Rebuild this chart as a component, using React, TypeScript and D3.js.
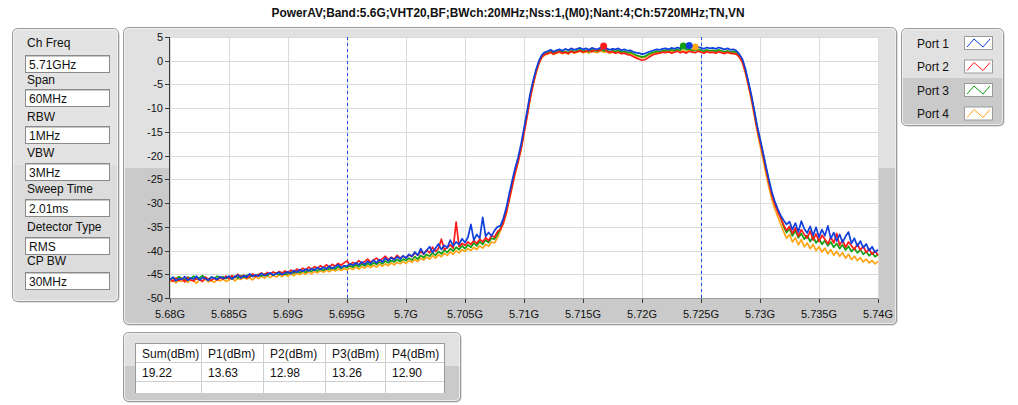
import React from "react";
import * as d3 from "d3";

// ---------- data ----------
const title = "PowerAV;Band:5.6G;VHT20,BF;BWch:20MHz;Nss:1,(M0);Nant:4;Ch:5720MHz;TN,VN";
const settingLabels = ["Ch Freq", "Span", "RBW", "VBW", "Sweep Time", "Detector Type", "CP BW"];
const settingValues = ["5.71GHz", "60MHz", "1MHz", "3MHz", "2.01ms", "RMS", "30MHz"];
const tableHeaders = ["Sum(dBm)", "P1(dBm)", "P2(dBm)", "P3(dBm)", "P4(dBm)"];
const tableValues = ["19.22", "13.63", "12.98", "13.26", "12.90"];
const portNames = ["Port 1", "Port 2", "Port 3", "Port 4"];
const portColors = ["#1040dc", "#ff1a1a", "#12a012", "#ffa514"];
const xTicks = [5.68, 5.685, 5.69, 5.695, 5.7, 5.705, 5.71, 5.715, 5.72, 5.725, 5.73, 5.735, 5.74];
const xTickLabels = ["5.68G", "5.685G", "5.69G", "5.695G", "5.7G", "5.705G", "5.71G", "5.715G", "5.72G", "5.725G", "5.73G", "5.735G", "5.74G"];
const yTicks = [5, 0, -5, -10, -15, -20, -25, -30, -35, -40, -45, -50];
const cursorFreqs = [5.695, 5.725];
const freqStartGHz = 5.68;
const freqStepGHz = 0.00025;

const port1 = [
  -46.2, -45.6, -46.4, -45.9, -46.1, -45.5, -46.3, -45.8, -46.0, -45.4, -46.2, -45.7, -45.9, -46.3, -45.6, -45.8, -46.1, -45.5, -45.9, -45.7,
  -45.4, -46.0, -45.5, -45.2, -45.8, -45.3, -45.6, -44.9, -45.5, -45.1, -45.4, -44.8, -45.3, -45.0, -44.7, -45.2, -44.9, -44.6, -45.1, -44.7,
  -44.5, -44.9, -44.2, -44.6, -44.0, -44.4, -43.9, -44.3, -43.8, -44.2, -43.6, -44.0, -43.5, -43.9, -43.3, -43.8, -43.4, -43.0, -43.6, -43.2,
  -43.3, -42.8, -43.1, -42.6, -43.0, -42.4, -42.9, -42.3, -42.7, -42.0, -42.6, -41.9, -42.4, -41.6, -42.2, -41.5, -42.0, -41.3, -41.8, -41.1,
  -41.6, -40.8, -41.2, -40.3, -41.0, -39.6, -40.7, -40.0, -39.2, -40.4, -39.5, -38.6, -39.8, -38.9, -39.4, -37.8, -39.0, -38.2, -38.7, -37.5,
  -38.3, -37.2, -34.5, -37.8, -36.6, -37.4, -33.0, -37.0, -36.2, -36.9, -35.8, -35.0,
  -34.8, -33.2, -31.0, -28.0, -25.2, -22.6, -20.4, -17.6, -14.2, -10.8, -7.2, -4.4, -2.0, -0.1, 1.2, 1.8,
  2.0, 2.3, 1.9, 2.2, 2.4, 2.1, 2.5, 2.2, 2.6, 2.3, 2.5, 2.7, 2.4, 2.6, 2.3, 2.7, 2.5, 2.4, 2.8, 2.5, 2.6, 2.3, 2.5, 2.4, 2.6, 2.2, 2.4, 2.1,
  2.2, 1.9, 1.7, 1.6, 1.4, 1.5, 1.8, 2.0, 2.2, 2.4, 2.3, 2.5,
  2.6, 2.4, 2.7, 2.5, 2.8, 2.6, 2.9, 2.7, 3.2, 2.8, 2.6, 2.9, 2.7, 2.5, 2.8, 2.6, 2.7, 2.5, 2.8, 2.6, 2.4, 2.6, 2.3, 2.4,
  2.1, 1.4, 0.4, -1.6, -4.2, -7.0, -10.2, -13.6, -16.4, -19.2, -22.2, -25.0, -27.6, -29.6, -31.2, -32.6,
  -33.6, -34.5, -33.9, -35.6, -34.2, -36.1, -33.8, -35.4, -36.3, -34.9, -36.8, -35.1, -37.2, -35.6, -36.9, -34.8, -37.5, -36.2, -38.0, -36.6,
  -38.3, -37.0, -36.1, -38.5, -37.4, -39.1, -38.0, -39.4, -38.6, -40.0, -39.2, -40.4, -39.8,
];

const port2 = [
  -46.0, -46.5, -45.8, -46.3, -45.9, -46.6, -45.7, -46.2, -46.4, -45.9, -46.1, -46.5, -45.6, -46.0, -46.3, -45.8, -46.2, -45.7, -46.0, -45.4,
  -45.9, -45.3, -45.7, -45.0, -45.6, -45.2, -45.8, -45.4, -44.9, -45.5, -45.1, -44.7, -45.2, -44.6, -45.0, -44.5, -44.9, -44.4, -44.8, -44.3,
  -44.7, -44.1, -44.5, -43.9, -44.3, -43.7, -44.1, -43.5, -43.9, -43.4, -43.7, -43.2, -43.6, -43.0, -43.5, -42.9, -43.3, -42.7, -43.1, -42.6,
  -42.2, -43.0, -42.5, -42.8, -42.1, -42.7, -42.3, -41.8, -42.5, -42.0, -41.6, -42.2, -41.7, -41.2, -41.9, -41.4, -41.8, -41.0, -41.6, -41.2,
  -41.5, -40.9, -41.3, -40.5, -41.0, -40.2, -40.8, -39.9, -40.5, -39.3, -40.2, -39.6, -37.6, -39.8, -39.4, -38.8, -39.5, -34.0, -39.2, -38.5,
  -38.9, -38.2, -38.7, -37.9, -38.5, -37.6, -38.2, -37.3, -37.9, -36.8, -37.2, -36.0,
  -35.6, -34.2, -32.0, -29.2, -26.4, -23.6, -21.2, -18.6, -15.2, -11.8, -8.2, -5.2, -2.6, -0.6, 0.8, 1.3,
  1.5, 1.8, 1.4, 1.7, 1.9, 1.6, 1.8, 1.5, 2.0, 1.7, 1.9, 2.1, 1.8, 2.0, 2.2, 1.9, 2.3, 2.1, 2.2, 3.1, 2.0, 1.8, 1.9, 1.6, 1.8, 1.5, 1.6, 1.3,
  1.2, 0.9, 0.6, 0.3, 0.1, 0.2, 0.6, 1.0, 1.3, 1.5, 1.6, 1.8,
  1.7, 1.9, 1.6, 1.8, 2.0, 1.7, 1.9, 1.6, 2.0, 1.8, 1.7, 2.0, 1.8, 1.6, 1.9, 1.7, 1.8, 1.6, 1.9, 1.7, 1.5, 1.8, 1.6, 1.5,
  1.4, 0.8, -0.2, -2.2, -4.8, -7.6, -10.8, -14.2, -17.0, -19.8, -22.8, -25.6, -28.2, -30.2, -31.8, -33.2,
  -34.6, -35.8, -34.9, -36.4, -35.2, -37.0, -35.6, -36.6, -37.4, -35.9, -37.8, -36.5, -38.1, -36.8, -37.6, -38.6, -37.2, -38.4, -36.4, -38.9,
  -37.8, -39.3, -38.2, -39.0, -39.8, -38.6, -39.9, -39.1, -40.4, -39.6, -40.8, -40.1, -41.0,
];

const port3 = [
  -46.1, -45.7, -46.0, -45.5, -45.9, -46.2, -45.6, -45.9, -45.4, -46.0, -45.7, -45.3, -45.8, -46.1, -45.6, -45.9, -45.4, -45.8, -45.5, -45.9,
  -45.6, -45.9, -45.4, -45.8, -45.3, -45.7, -45.2, -45.6, -45.1, -45.5, -45.0, -45.4, -44.9, -45.3, -44.8, -45.2, -44.7, -45.1, -44.6, -45.0,
  -44.9, -44.5, -44.8, -44.3, -44.7, -44.2, -44.6, -44.1, -44.4, -43.9, -44.3, -43.8, -44.2, -43.7, -44.0, -43.6, -43.9, -43.4, -43.8, -43.3,
  -43.6, -43.2, -43.5, -43.0, -43.4, -42.9, -43.2, -42.7, -43.1, -42.6, -42.9, -42.4, -42.8, -42.2, -42.6, -42.1, -42.4, -41.9, -42.3, -41.8,
  -42.1, -41.6, -42.0, -41.3, -41.8, -41.0, -41.5, -40.8, -41.2, -40.5, -41.0, -40.2, -40.7, -39.9, -40.4, -39.6, -40.1, -39.3, -39.8, -39.0,
  -39.6, -38.8, -39.3, -38.4, -39.0, -38.1, -38.7, -37.8, -38.3, -37.4, -37.6, -36.6,
  -35.4, -33.8, -31.6, -28.7, -25.9, -23.2, -20.9, -18.2, -14.8, -11.4, -7.8, -4.9, -2.4, -0.4, 0.9, 1.5,
  1.7, 2.0, 1.6, 1.9, 2.1, 1.8, 2.0, 1.7, 2.2, 1.9, 2.1, 2.3, 2.0, 2.2, 1.9, 2.3, 2.1, 2.0, 2.4, 2.1, 2.2, 1.9, 2.1, 2.0, 2.2, 1.8, 2.0, 1.7,
  1.8, 1.5, 1.2, 1.0, 0.8, 0.9, 1.3, 1.6, 1.8, 2.0, 1.9, 2.1,
  2.2, 2.0, 2.3, 2.1, 2.4, 2.2, 3.1, 2.3, 2.5, 2.2, 2.1, 2.4, 2.2, 2.0, 2.3, 2.1, 2.2, 2.0, 2.3, 2.1, 1.9, 2.1, 1.8, 1.9,
  1.8, 1.1, 0.1, -1.9, -4.5, -7.3, -10.5, -13.9, -16.7, -19.5, -22.5, -25.3, -27.9, -29.9, -31.5, -32.9,
  -34.9, -36.2, -35.4, -36.9, -35.8, -37.3, -36.4, -37.6, -36.8, -38.1, -37.0, -38.4, -37.5, -38.7, -37.9, -39.0, -38.2, -39.3, -38.5, -39.6,
  -38.8, -39.9, -39.1, -40.2, -39.5, -40.5, -39.8, -40.8, -40.2, -41.1, -40.5, -41.3, -40.9,
];

const port4 = [
  -46.6, -46.2, -46.8, -46.3, -46.5, -46.0, -46.7, -46.2, -46.4, -46.9, -46.1, -46.5, -46.0, -46.6, -46.3, -46.7, -46.1, -46.4, -46.0, -46.5,
  -46.2, -45.8, -46.4, -45.9, -46.1, -45.6, -46.0, -45.7, -46.2, -45.5, -45.9, -45.4, -45.8, -45.3, -45.7, -45.2, -45.6, -45.1, -45.5, -45.0,
  -45.4, -44.9, -45.3, -44.8, -45.1, -44.6, -45.0, -44.5, -44.9, -44.4, -44.7, -44.2, -44.6, -44.1, -44.5, -44.0, -44.3, -43.9, -44.2, -43.8,
  -44.1, -43.7, -44.0, -43.5, -43.9, -43.4, -43.7, -43.2, -43.6, -43.1, -43.5, -42.9, -43.3, -42.8, -43.2, -42.6, -43.0, -42.5, -42.8, -42.3,
  -42.7, -42.1, -42.5, -41.9, -42.3, -41.6, -42.0, -41.4, -41.8, -41.1, -41.6, -40.9, -41.3, -40.6, -41.0, -40.3, -40.8, -40.0, -40.5, -39.8,
  -40.2, -39.6, -40.0, -39.3, -39.8, -39.0, -39.5, -38.7, -39.1, -38.2, -38.4, -37.3,
  -35.8, -34.3, -32.2, -29.4, -26.6, -23.8, -21.4, -18.8, -15.4, -12.0, -8.4, -5.4, -2.8, -0.8, 0.6, 1.2,
  1.4, 1.7, 1.3, 1.6, 1.8, 1.5, 1.7, 1.4, 1.9, 1.6, 1.8, 2.0, 1.7, 1.9, 1.6, 2.0, 1.8, 1.7, 2.1, 1.8, 1.9, 1.6, 1.8, 1.7, 1.9, 1.5, 1.7, 1.4,
  1.5, 1.2, 1.0, 0.8, 0.6, 0.7, 1.1, 1.4, 1.6, 1.8, 1.7, 1.9,
  2.0, 1.8, 2.1, 1.9, 2.2, 2.0, 2.1, 1.9, 2.2, 2.0, 2.9, 2.1, 1.9, 1.8, 2.0, 1.8, 1.9, 1.7, 2.0, 1.8, 1.6, 1.8, 1.5, 1.6,
  1.5, 0.7, -0.4, -2.5, -5.2, -8.1, -11.4, -14.8, -17.8, -20.8, -23.8, -26.6, -29.2, -31.2, -32.8, -34.4,
  -36.0, -37.4, -36.6, -38.2, -37.3, -38.8, -37.7, -39.2, -38.4, -39.6, -38.7, -40.0, -39.2, -40.3, -39.5, -40.7, -39.8, -41.0, -40.2, -41.2,
  -40.5, -41.6, -40.8, -41.9, -41.2, -42.1, -41.5, -42.4, -41.8, -42.6, -42.1, -42.8, -42.3,
];

const portSeries = [port1, port2, port3, port4];

// ---------- layout ----------
const W = 1018;
const H = 405;
const plot = { left: 170, right: 878, top: 37, bottom: 298 };
const FONT = "'Liberation Sans', Arial, sans-serif";

function Panel({ x, y, w, h, split, light = "#e1e1e1", dark = "#cacaca", id }: any) {
  const s = split === undefined ? 1 : (split - y) / h;
  return (
    <g>
      <defs>
        <linearGradient id={id} x1="0" y1="0" x2="0" y2="1">
          <stop offset="0" stopColor={light} />
          <stop offset={s} stopColor={light} />
          <stop offset={s} stopColor={dark} />
          <stop offset="1" stopColor={dark} />
        </linearGradient>
      </defs>
      <rect x={x + 1.5} y={y + 1.5} width={w} height={h} rx={5} fill="#c4c4c4" />
      <rect x={x + 0.5} y={y + 0.5} width={w} height={h} rx={5} fill={`url(#${id})`} stroke="#9a9a9a" />
      <rect x={x + 1.5} y={y + 1.5} width={w - 2} height={h - 2} rx={4} fill="none" stroke="#f4f4f4" strokeOpacity={0.8} />
    </g>
  );
}

export default function App() {
  const x = d3.scaleLinear().domain([5.68, 5.74]).range([plot.left, plot.right]);
  const y = d3.scaleLinear().domain([-50, 5]).range([plot.bottom, plot.top]);
  const line = d3
    .line<number>()
    .x((_, i) => x(freqStartGHz + i * freqStepGHz))
    .y((d) => y(d));

  const boxTops = [55, 89, 126, 163, 199, 237, 272];
  const labelBase = [47, 84, 121, 157, 193, 231, 265];
  const colX = [135, 201, 263, 325, 385, 445];
  const drawOrder = [3, 2, 1, 0];

  return (
    <svg width={W} height={H} style={{ position: "absolute", left: 0, top: 0, background: "#fff" }} fontFamily={FONT}>
      <defs>
        <clipPath id="plotClip">
          <rect x={plot.left} y={plot.top - 4} width={plot.right - plot.left + 1} height={plot.bottom - plot.top + 4} />
        </clipPath>
      </defs>
      <rect x={0} y={0} width={W} height={H} fill="#fff" />

      {/* title */}
      <text x={508} y={17} textAnchor="middle" fontSize={12} fontWeight="bold" fill="#111" textLength={473} lengthAdjust="spacingAndGlyphs">
        {title}
      </text>

      {/* left settings panel */}
      <Panel id="gLeft" x={12} y={28} w={106} h={273} light="#e3e3e3" dark="#dcdcdc" split={165} />
      {settingLabels.map((lab, k) => (
        <g key={lab}>
          <text x={27} y={labelBase[k]} fontSize={12} fill="#111">{lab}</text>
          <rect x={25.5} y={boxTops[k] + 0.5} width={84} height={17} fill="#fff" stroke="#8a8a8a" />
          <line x1={26} y1={boxTops[k] + 1.5} x2={109} y2={boxTops[k] + 1.5} stroke="#c8c8c8" />
          <text x={29} y={boxTops[k] + 13.5} fontSize={12} fill="#111">{settingValues[k]}</text>
        </g>
      ))}

      {/* plot panel */}
      <Panel id="gPlot" x={123} y={27} w={773} h={297} split={168} />
      <rect x={plot.left} y={plot.top} width={plot.right - plot.left} height={plot.bottom - plot.top} fill="#fff" />

      {/* grid */}
      {xTicks.map((t) => (
        <line key={"gx" + t} x1={Math.round(x(t)) + 0.5} x2={Math.round(x(t)) + 0.5} y1={plot.top} y2={plot.bottom} stroke="#dadada" />
      ))}
      {yTicks.map((t) => (
        <line key={"gy" + t} x1={plot.left} x2={plot.right} y1={Math.round(y(t)) + 0.5} y2={Math.round(y(t)) + 0.5} stroke="#dadada" />
      ))}
      {cursorFreqs.map((c) => (
        <line key={"c" + c} x1={Math.round(x(c)) + 0.5} x2={Math.round(x(c)) + 0.5} y1={plot.top} y2={plot.bottom} stroke="#1e50e6" strokeDasharray="3,3" />
      ))}

      {/* traces */}
      <g clipPath="url(#plotClip)">
        {drawOrder.map((k) => (
          <path key={"p" + k} d={line(portSeries[k]) || ""} fill="none" stroke={portColors[k]} strokeWidth={1.7} strokeLinejoin="round" />
        ))}
        {drawOrder.map((k) => {
          const mi = d3.maxIndex(portSeries[k]);
          return (
            <circle key={"m" + k} cx={x(freqStartGHz + mi * freqStepGHz)} cy={y(portSeries[k][mi])} r={3.5} fill={portColors[k]} />
          );
        })}
      </g>

      {/* axes */}
      <line x1={plot.left - 0.5} x2={plot.left - 0.5} y1={plot.top} y2={plot.bottom + 1} stroke="#3a3a3a" />
      <line x1={plot.left} x2={plot.right} y1={plot.bottom + 0.5} y2={plot.bottom + 0.5} stroke="#9a9a9a" />
      {yTicks.map((t) => (
        <g key={"ty" + t}>
          <line x1={plot.left - 5} x2={plot.left} y1={Math.round(y(t)) + 0.5} y2={Math.round(y(t)) + 0.5} stroke="#3a3a3a" />
          <text x={plot.left - 7} y={y(t) + 4} fontSize={11} textAnchor="end" fill="#111">{t}</text>
        </g>
      ))}
      {xTicks.map((t, k) => (
        <g key={"tx" + t}>
          <line x1={Math.round(x(t)) + 0.5} x2={Math.round(x(t)) + 0.5} y1={plot.bottom + 1} y2={plot.bottom + 5} stroke="#3a3a3a" />
          <text x={x(t)} y={plot.bottom + 20} fontSize={11} textAnchor="middle" fill="#111">{xTickLabels[k]}</text>
        </g>
      ))}

      {/* legend */}
      <Panel id="gLeg" x={901} y={28} w={102} h={97} split={77} />
      {portNames.map((name, k) => {
        const cy = 43 + k * 23.5;
        const sx = 964;
        return (
          <g key={name}>
            <text x={917} y={cy + 4.5} fontSize={12} fill="#111">{name}</text>
            <rect x={sx + 0.5} y={cy - 6.5} width={28} height={13} fill="#fff" stroke="#9a9a9a" />
            <polyline
              points={`${sx + 3},${cy + 4} ${sx + 10},${cy - 4} ${sx + 19},${cy + 4} ${sx + 26},${cy - 4}`}
              fill="none"
              stroke={portColors[k]}
              strokeWidth={1}
            />
          </g>
        );
      })}

      {/* results table */}
      <Panel id="gTab" x={123} y={332} w={337} h={69} split={366} />
      <rect x={colX[0]} y={343} width={colX[5] - colX[0]} height={50} fill="#fff" />
      <line x1={colX[0]} x2={colX[5]} y1={362.5} y2={362.5} stroke="#cfcfcf" />
      <line x1={colX[0]} x2={colX[5]} y1={381.5} y2={381.5} stroke="#cfcfcf" />
      {colX.slice(1, 5).map((cx) => (
        <line key={"cl" + cx} x1={cx + 0.5} x2={cx + 0.5} y1={343} y2={393} stroke="#cfcfcf" />
      ))}
      <rect x={colX[0] + 0.5} y={343.5} width={colX[5] - colX[0] - 1} height={50} fill="none" stroke="#9a9a9a" />
      <rect x={colX[0] - 0.5} y={393} width={colX[5] - colX[0] + 1} height={3} fill="#cacaca" />
      {tableHeaders.map((h, k) => (
        <g key={h}>
          <text x={colX[k] + 7} y={358} fontSize={12} fill="#111">{h}</text>
          <text x={colX[k] + 7} y={377} fontSize={12} fill="#111">{tableValues[k]}</text>
        </g>
      ))}
    </svg>
  );
}
